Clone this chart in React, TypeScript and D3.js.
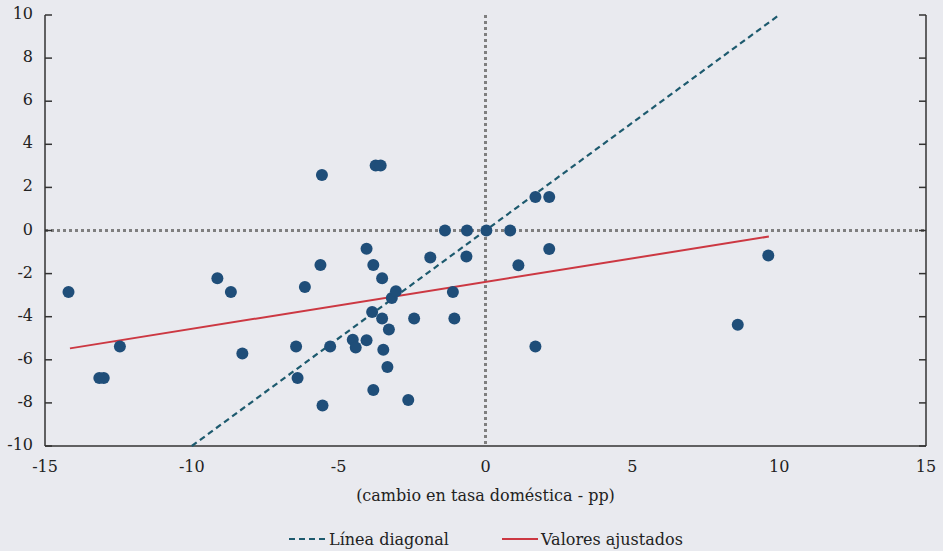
import React from 'react';
import * as d3 from 'd3';

// scatter points: cambio en tasa doméstica (x) vs respuesta (y)
const xValues = [
  -14.2, -13.15, -13.0, -12.45, -9.13, -8.67, -8.28, -6.45, -6.4, -6.15,
  -5.62, -5.57, -5.55, -5.29, -4.52, -4.42, -4.05, -4.05, -3.86, -3.82,
  -3.82, -3.74, -3.57, -3.52, -3.52, -3.48, -3.34, -3.29, -3.19, -3.05,
  -2.63, -2.43, -1.88, -1.38, -1.11, -1.06, -0.65, -0.63, 0.03, 0.84,
  1.12, 1.7, 1.7, 2.17, 2.17, 8.59, 9.63,
];
const yValues = [
  -2.85, -6.85, -6.85, -5.38, -2.22, -2.85, -5.71, -5.38, -6.85, -2.62,
  -1.6, 2.57, -8.12, -5.38, -5.07, -5.43, -0.85, -5.09, -3.78, -1.6,
  -7.4, 3.02, 3.02, -2.22, -4.08, -5.53, -6.33, -4.59, -3.13, -2.82,
  -7.86, -4.08, -1.25, 0.0, -2.85, -4.08, -1.21, 0.0, 0.0, 0.0,
  -1.61, 1.55, -5.38, 1.55, -0.86, -4.37, -1.16,
];

const diagonalX = [-10, 10];
const diagonalY = [-10, 10];
const fittedX = [-14.15, 9.65];
const fittedY = [-5.47, -0.28];

const xTicks = [-15, -10, -5, 0, 5, 10, 15];
const yTicks = [-10, -8, -6, -4, -2, 0, 2, 4, 6, 8, 10];

const xLabel = '(cambio en tasa doméstica - pp)';
const legendLabels = ['Línea diagonal', 'Valores ajustados'];

const W = 943, H = 551;
const margin = { top: 15, right: 17, bottom: 105, left: 45 };
const width = W - margin.left - margin.right;
const height = H - margin.top - margin.bottom;

const bg = '#e9eaef';
const dotColor = '#1f4e79';
const diagColor = '#1d5a6e';
const fitColor = '#cc3842';
const axisColor = '#333333';
const font = 'DejaVu Serif';

export default function App() {
  const x = d3.scaleLinear().domain([-15, 15]).range([0, width]);
  const y = d3.scaleLinear().domain([-10, 10]).range([height, 0]);
  const line = d3.line<[number, number]>().x((d) => x(d[0])).y((d) => y(d[1]));

  const points = xValues.map((v, i) => [v, yValues[i]] as [number, number]);
  const diag = diagonalX.map((v, i) => [v, diagonalY[i]] as [number, number]);
  const fit = fittedX.map((v, i) => [v, fittedY[i]] as [number, number]);

  const legendY = 539;

  return (
    <svg width={W} height={H} style={{ position: 'absolute', left: 0, top: 0, background: bg }}>
      <rect width={W} height={H} fill={bg} />
      <g transform={`translate(${margin.left},${margin.top})`}>
        {/* zero reference lines */}
        <line x1={0} x2={width} y1={y(0)} y2={y(0)} stroke="#7f7f7f" strokeWidth={3} strokeDasharray="3,3" />
        <line x1={x(0)} x2={x(0)} y1={0} y2={height} stroke="#7f7f7f" strokeWidth={3} strokeDasharray="3,3" />

        {/* axes */}
        <line x1={0} x2={0} y1={0} y2={height} stroke={axisColor} strokeWidth={1.5} />
        <line x1={width} x2={width} y1={0} y2={height} stroke={axisColor} strokeWidth={1.5} />
        <line x1={0} x2={width} y1={height} y2={height} stroke={axisColor} strokeWidth={1.5} />
        {yTicks.map((t) => (
          <g key={t}>
            <line x1={0} x2={7} y1={y(t)} y2={y(t)} stroke={axisColor} strokeWidth={1.5} />
            <line x1={width - 7} x2={width} y1={y(t)} y2={y(t)} stroke={axisColor} strokeWidth={1.5} />
            <text x={-12} y={y(t) + 4} textAnchor="end" fontSize={16} fontFamily={font} fill="#222">{t}</text>
          </g>
        ))}
        {xTicks.map((t) => (
          <text key={t} x={x(t)} y={height + 26} textAnchor="middle" fontSize={16} fontFamily={font} fill="#222">{t}</text>
        ))}

        {/* lines */}
        <path d={line(diag) ?? ''} fill="none" stroke={diagColor} strokeWidth={2.2} strokeDasharray="6,4" />
        <path d={line(fit) ?? ''} fill="none" stroke={fitColor} strokeWidth={2} />

        {/* points */}
        {points.map((p, i) => (
          <circle key={i} cx={x(p[0])} cy={y(p[1])} r={6} fill={dotColor} />
        ))}
      </g>

      <text x={margin.left + x(0)} y={501} textAnchor="middle" fontSize={16} fontFamily={font} fill="#222">{xLabel}</text>

      {/* legend */}
      <line x1={289} x2={326} y1={legendY} y2={legendY} stroke={diagColor} strokeWidth={2.2} strokeDasharray="6,4" />
      <text x={329} y={legendY + 6} fontSize={16} fontFamily={font} fill="#222">{legendLabels[0]}</text>
      <line x1={502} x2={538} y1={legendY} y2={legendY} stroke={fitColor} strokeWidth={2} />
      <text x={541} y={legendY + 6} fontSize={16} fontFamily={font} fill="#222">{legendLabels[1]}</text>
    </svg>
  );
}
